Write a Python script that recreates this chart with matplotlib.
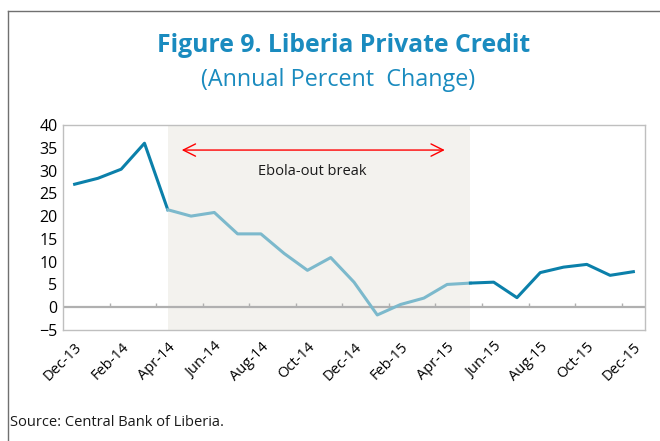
import numpy as np
import matplotlib.pyplot as plt
from matplotlib.lines import Line2D

plt.rcParams['font.family'] = ['Open Sans', 'DejaVu Sans']

# Datos: crecimiento anual del crédito privado (%)
months = ["Dec-13", "Jan-14", "Feb-14", "Mar-14", "Apr-14", "May-14", "Jun-14",
          "Jul-14", "Aug-14", "Sep-14", "Oct-14", "Nov-14", "Dec-14", "Jan-15",
          "Feb-15", "Mar-15", "Apr-15", "May-15", "Jun-15", "Jul-15", "Aug-15",
          "Sep-15", "Oct-15", "Nov-15", "Dec-15"]
credit = [27.0, 28.3, 30.3, 36.0, 21.4, 20.0, 20.8, 16.1, 16.1, 11.8, 8.1, 10.9,
          5.5, -1.7, 0.6, 2.0, 5.0, 5.3, 5.5, 2.1, 7.6, 8.8, 9.4, 7.0, 7.8]
ebola_start, ebola_end = 4, 17   # índices del periodo del ébola

dark = '#0B80AA'
light = '#7CB9CC'
title_col = '#1A8BBF'

fig = plt.figure(figsize=(6.6, 4.41), dpi=100)
ax = fig.add_axes([63 / 660, 1 - 330 / 441, 582 / 660, 205 / 441])

x = np.arange(len(months))
y = np.array(credit)

# Sombreado del periodo del ébola
ax.axvspan(ebola_start, ebola_end, color='#F3F2EE', zorder=0, lw=0)

# Línea en tres tramos
ax.plot(x[:ebola_start + 1], y[:ebola_start + 1], color=dark, lw=2.2, zorder=3)
ax.plot(x[ebola_start:ebola_end + 1], y[ebola_start:ebola_end + 1], color=light, lw=2.2, zorder=3)
ax.plot(x[ebola_end:], y[ebola_end:], color=dark, lw=2.2, zorder=3)

ax.set_xlim(-0.5, len(months) - 0.5)
ax.set_ylim(-5, 40)
ax.set_yticks(np.arange(-5, 41, 5))
ax.tick_params(axis='y', length=0, labelsize=11.5, pad=4)

ax.set_xticks(x[::2])
ax.set_xticklabels(months[::2], rotation=45, ha='right', rotation_mode='anchor', fontsize=10.5)
ax.tick_params(axis='x', length=0, pad=7)

# Línea de cero con marcas
ax.axhline(0, color='#B0B0B0', lw=1.6, zorder=2)
ax.vlines(np.arange(1.5, len(months) - 0.5, 2), 0, 1.0, color='#B0B0B0', lw=1.0, zorder=2)

for s in ax.spines.values():
    s.set_color('#BFBFBF')
    s.set_linewidth(1.0)

# Flecha y texto
ax.annotate('', xy=(4.6, 34.5), xytext=(15.9, 34.5),
            arrowprops=dict(arrowstyle='<->', color='#FF0000', lw=1.0,
                            mutation_scale=22, shrinkA=0, shrinkB=0))
ax.text(10.2, 29.9, 'Ebola-out break', ha='center', va='center', fontsize=10.5, color='#1A1A1A')

# Títulos
fig.text(344 / 660, 1 - 45 / 441, 'Figure 9. Liberia Private Credit', ha='center', va='center',
         fontsize=17.8, fontweight='bold', color=title_col)
fig.text(338 / 660, 1 - 80 / 441, '(Annual Percent  Change)', ha='center', va='center',
         fontsize=16.8, color=title_col)
fig.text(10 / 660, 1 - 423 / 441, 'Source: Central Bank of Liberia.', ha='left', va='center',
         fontsize=10.5, color='#1A1A1A')

# Marco
fig.add_artist(Line2D([8 / 660, 8 / 660], [0, 1 - 11 / 441], color='#707070', lw=1.0))
fig.add_artist(Line2D([8 / 660, 1], [1 - 11 / 441, 1 - 11 / 441], color='#707070', lw=1.0))

fig.savefig('out.png', dpi=100)
